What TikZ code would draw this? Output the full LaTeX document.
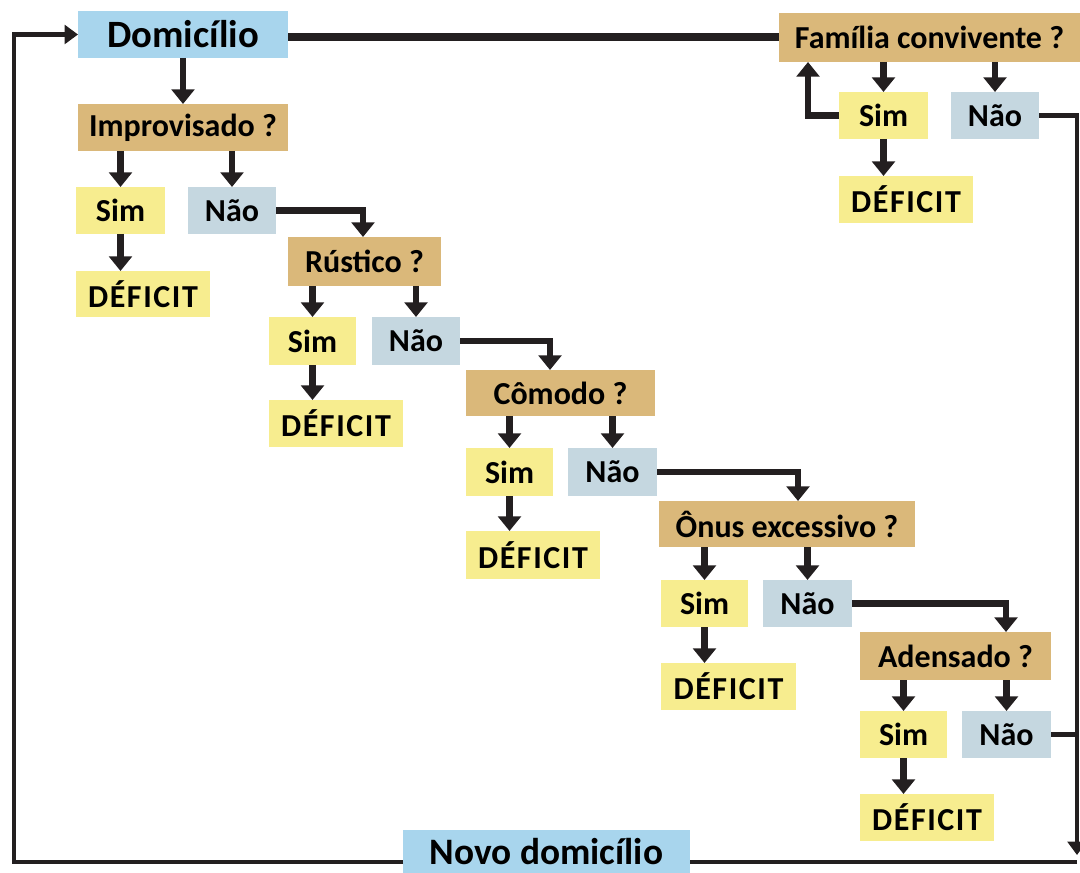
\documentclass[tikz,border=0pt]{standalone}
\usepackage{fontspec}
\setmainfont{Carlito}
\usetikzlibrary{arrows.meta,calc}
\definecolor{cblue}{RGB}{168,213,237}
\definecolor{ctan}{RGB}{218,184,122}
\definecolor{cyel}{RGB}{247,237,143}
\definecolor{cgry}{RGB}{197,215,224}
\definecolor{cline}{RGB}{35,31,32}
\newcommand\bx[7]{\node[#6, minimum width={(#4-#2)*0.75pt}, minimum height={(#5-#3)*0.75pt}] (#1) at ({(#2+#4)/2},{(#3+#5)/2}) {#7};}
\tikzset{
  base/.style={inner sep=0pt, outer sep=0pt, text=black, font=\fontsize{24}{27}\selectfont\bfseries},
  qbox/.style={base, fill=ctan},
  sbox/.style={base, fill=cyel},
  nbox/.style={base, fill=cgry},
  dbox/.style={base, fill=cyel, font=\fontsize{24}{27}\selectfont\bfseries\addfontfeature{LetterSpace=5}},
  mbox/.style={base, fill=cblue, font=\fontsize{29}{32}\selectfont\bfseries},
  nvbox/.style={base, fill=cblue, font=\fontsize{28}{31}\selectfont\bfseries},
  arr/.style={draw=cline, line width=5pt, -{Triangle[width=17pt,length=11pt]}},
  thick line/.style={draw=cline, line width=6pt},
  border/.style={draw=cline, line width=3.5pt},
  borderarr/.style={border, -{Triangle[width=14pt,length=10pt]}},
}
\begin{document}
\begin{tikzpicture}[x=0.75pt, y=-0.75pt]
\useasboundingbox (0,0) rectangle (1080,873);
% main boxes
\bx{dom}{78}{11}{288}{58}{mbox}{Domicílio}
\bx{fam}{779}{13}{1080}{62}{qbox}{Família convivente ?}
\bx{novo}{403}{830}{690}{873}{nvbox}{Novo domicílio}
% Familia branch
\bx{fs}{839}{92}{928}{139}{sbox}{Sim}
\bx{fn}{951}{92}{1039}{139}{nbox}{Não}
\bx{fd}{839}{176}{973}{223}{dbox}{DÉFICIT}
% Improvisado
\bx{q1}{78}{104}{288}{151}{qbox}{Improvisado ?}
\bx{s1}{76}{187}{165}{234}{sbox}{Sim}
\bx{n1}{188}{187}{276}{234}{nbox}{Não}
\bx{d1}{76}{271}{210}{317}{dbox}{DÉFICIT}
% Rustico
\bx{q2}{288}{237}{441}{286}{qbox}{Rústico ?}
\bx{s2}{269}{317}{356}{365}{sbox}{Sim}
\bx{n2}{372}{317}{460}{365}{nbox}{Não}
\bx{d2}{269}{400}{403}{447}{dbox}{DÉFICIT}
% Comodo
\bx{q3}{466}{370}{655}{416}{qbox}{Cômodo ?}
\bx{s3}{466}{448}{553}{496}{sbox}{Sim}
\bx{n3}{568}{448}{657}{496}{nbox}{Não}
\bx{d3}{466}{531}{600}{579}{dbox}{DÉFICIT}
% Onus
\bx{q4}{659}{501}{915}{547}{qbox}{Ônus excessivo ?}
\bx{s4}{661}{580}{748}{627}{sbox}{Sim}
\bx{n4}{763}{580}{852}{627}{nbox}{Não}
\bx{d4}{661}{663}{796}{710}{dbox}{DÉFICIT}
% Adensado
\bx{q5}{860}{632}{1051}{680}{qbox}{Adensado ?}
\bx{s5}{860}{711}{947}{758}{sbox}{Sim}
\bx{n5}{962}{711}{1051}{758}{nbox}{Não}
\bx{d5}{860}{794}{994}{841}{dbox}{DÉFICIT}
% coordinates
\coordinate (rt) at (1077,855);
\coordinate (br) at (1077,862);
\coordinate (bl) at (14,862);
% connectors
\draw[thick line] (fam.west -| dom.east) -- (fam.west);
\draw[arr] (dom.south) -- (q1.north);
\foreach \q/\s/\n/\d in {q1/s1/n1/d1, q2/s2/n2/d2, q3/s3/n3/d3, q4/s4/n4/d4, q5/s5/n5/d5, fam/fs/fn/fd}{
  \draw[arr] (\q.south -| \s) -- (\s.north);
  \draw[arr] (\q.south -| \n) -- (\n.north);
  \draw[arr] (\s.south) -- (\s.south |- \d.north);
}
\draw[arr] (n1.east) -| ($(q2.north west)+(75,0)$);
\draw[arr] (n2.east) -| ($(q3.north west)+(84,0)$);
\draw[arr] (n3.east) -| ($(q4.north west)+(139,0)$);
\draw[arr] (n4.east) -| ($(q5.north west)+(146,0)$);
\draw[arr] (fs.west) -| ($(fam.south west)+(29,0)$);
\draw[borderarr] (fn.east) -| (rt);
\draw[border] (n5.east) -- (n5.east -| rt);
\draw[border] (br) -- (br -| novo.east);
\draw[borderarr] (br -| novo.west) -- (bl) |- (dom.west);
\end{tikzpicture}
\end{document}
